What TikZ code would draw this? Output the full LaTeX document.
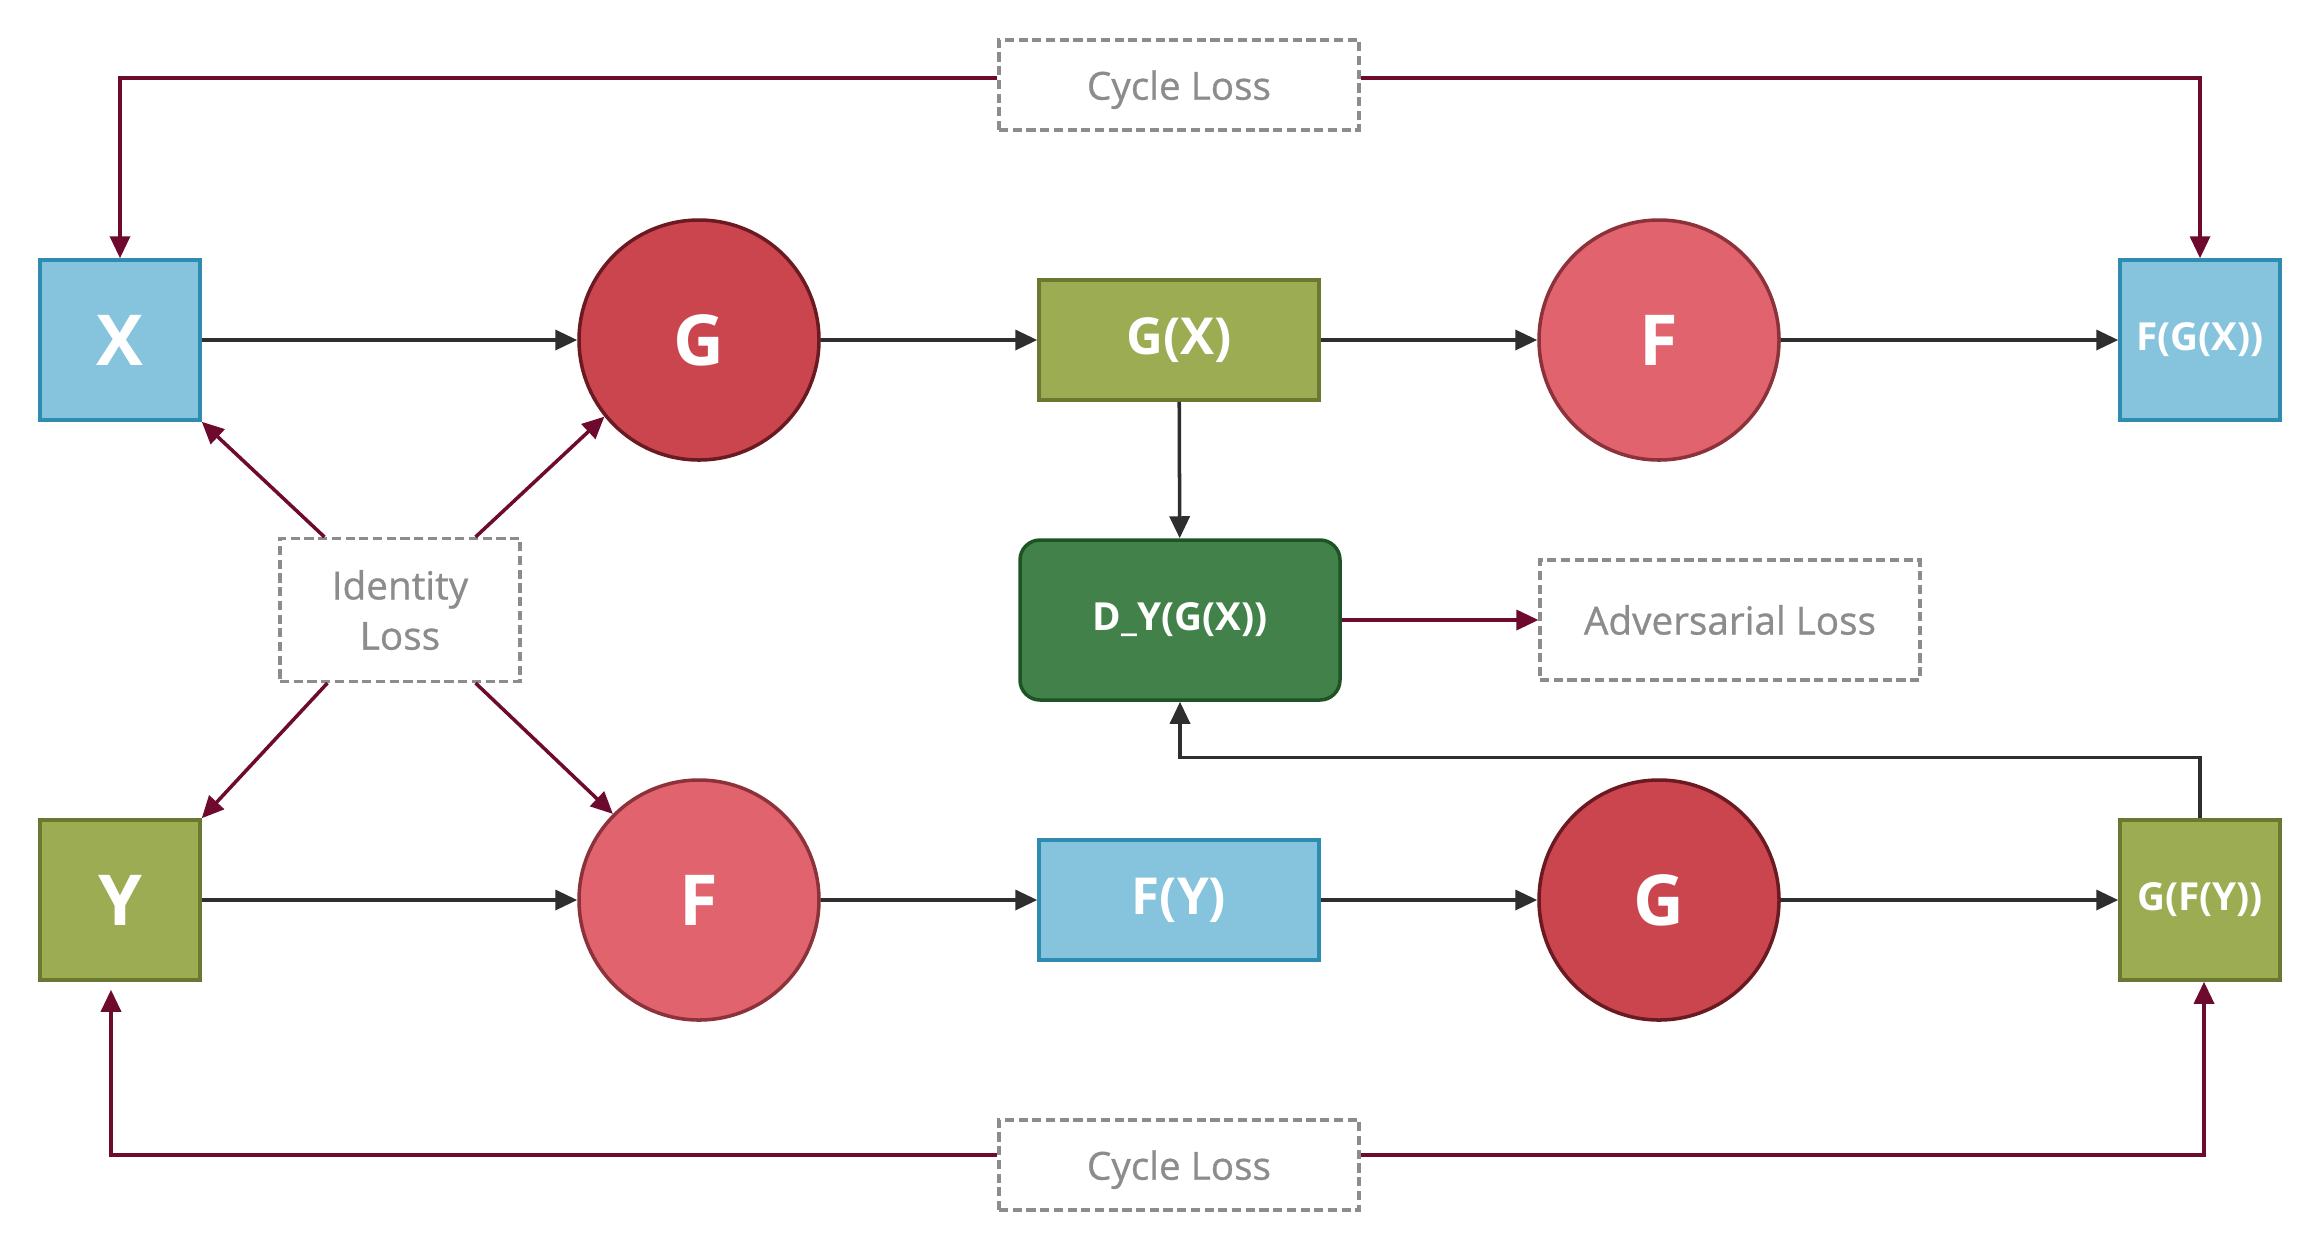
\documentclass[tikz,border=0pt]{standalone}
\usepackage{fontspec}
\setmainfont{Open Sans}
\newfontfamily\lossfont{Open Sans}[FakeBold=0.8]
\usetikzlibrary{arrows.meta}

\definecolor{imgblue}{HTML}{86C4DD}
\definecolor{imgblueline}{HTML}{2F8CB1}
\definecolor{imgolive}{HTML}{9BAC52}
\definecolor{imgoliveline}{HTML}{6A7831}
\definecolor{genred}{HTML}{CA454E}
\definecolor{genredline}{HTML}{6B1A22}
\definecolor{genpink}{HTML}{E0636D}
\definecolor{genpinkline}{HTML}{8D323A}
\definecolor{discgreen}{HTML}{42824A}
\definecolor{discgreenline}{HTML}{1E5425}
\definecolor{lossred}{HTML}{6E0A2E}
\definecolor{flowdark}{HTML}{2E2E2E}
\definecolor{lossgray}{HTML}{8C8C8C}

\tikzset{
  imgbox/.style={draw, line width=1pt, minimum width=1.6cm, minimum height=1.6cm,
    text=white, font=\fontsize{20}{24}\selectfont\bfseries},
  outbox/.style={imgbox, font=\fontsize{11}{13}\selectfont\bfseries},
  midbox/.style={draw, line width=1pt, minimum width=2.8cm, minimum height=1.2cm,
    text=white, font=\fontsize{14.5}{17}\selectfont\bfseries},
  gen/.style={circle, draw, line width=1pt, minimum size=2.4cm,
    text=white, font=\fontsize{20}{24}\selectfont\bfseries},
  disc/.style={draw=discgreenline, fill=discgreen, line width=1pt, rounded corners=0.2cm,
    minimum width=3.2cm, minimum height=1.6cm, text=white,
    font=\fontsize{11}{13}\selectfont\bfseries},
  lossbox/.style={draw=lossgray, line width=0.9pt, dash pattern=on 2.6pt off 1.3pt,
    text=lossgray, align=center, font=\fontsize{11}{14.3}\selectfont\lossfont},
  cyclebox/.style={lossbox, minimum width=3.6cm, minimum height=0.9cm, text depth=0pt},
  flow/.style={draw=flowdark, line width=1pt, -{Triangle[length=2.2mm,width=2mm]}},
  lossflow/.style={draw=lossred, line width=1pt, -{Triangle[length=2.2mm,width=2mm]}}
}

\begin{document}
\begin{tikzpicture}
  \useasboundingbox (0,0) rectangle (23.21,-12.52);
  % top row
  \node[imgbox, fill=imgblue, draw=imgblueline] (X) at (1.20,-3.40) {X};
  \node[gen, fill=genred, draw=genredline] (Gx) at (6.99,-3.40) {G};
  \node[midbox, fill=imgolive, draw=imgoliveline] (GX) at (11.79,-3.40) {G(X)};
  \node[gen, fill=genpink, draw=genpinkline] (Fx) at (16.59,-3.40) {F};
  \node[outbox, fill=imgblue, draw=imgblueline] (FGX) at (22.00,-3.40) {F(G(X))};
  % bottom row
  \node[imgbox, fill=imgolive, draw=imgoliveline] (Y) at (1.20,-9.00) {Y};
  \node[gen, fill=genpink, draw=genpinkline] (Fy) at (6.99,-9.00) {F};
  \node[midbox, fill=imgblue, draw=imgblueline] (FY) at (11.79,-9.00) {F(Y)};
  \node[gen, fill=genred, draw=genredline] (Gy) at (16.59,-9.00) {G};
  \node[outbox, fill=imgolive, draw=imgoliveline] (GFY) at (22.00,-9.00) {G(F(Y))};
  % discriminator and losses
  \node[disc] (DY) at (11.80,-6.20) {D\_Y(G(X))};
  \node[cyclebox] (cyctop) at (11.79,-0.85) {Cycle Loss};
  \node[cyclebox] (cycbot) at (11.79,-11.65) {Cycle Loss};
  \node[lossbox, minimum width=3.8cm, minimum height=1.2cm] (adv) at (17.30,-6.20) {Adversarial Loss};
  \node[lossbox, minimum width=2.4cm, minimum height=1.43cm] (ident) at (4.00,-6.10) {Identity\\Loss};

  \begin{scope}[flow]
    \draw (X) to (Gx);
    \draw (Gx) to (GX);
    \draw (GX) to (Fx);
    \draw (Fx) to (FGX);
    \draw (Y) to (Fy);
    \draw (Fy) to (FY);
    \draw (FY) to (Gy);
    \draw (Gy) to (GFY);
    \draw (GX) to (DY);
    \draw (GFY.north) -- ++(0,0.61) -| (DY.south);
  \end{scope}
  \begin{scope}[lossflow]
    \draw ([yshift=0.7mm]cyctop.west) -| (X.north);
    \draw ([yshift=0.7mm]cyctop.east) -| (FGX.north);
    \draw[shorten >=0.8mm] ([yshift=1mm]cycbot.west) -| ([xshift=-0.9mm]Y.south);
    \draw ([yshift=1mm]cycbot.east) -| ([xshift=0.4mm]GFY.south);
    \draw (DY) to (adv);
    \draw ([xshift=4.6mm]ident.north west) to (X.south east);
    \draw ([xshift=-4.6mm]ident.north east) to (Gx.219);
    \draw ([xshift=4.9mm]ident.south west) to (Y.north east);
    \draw ([xshift=-4.6mm]ident.south east) to (Fy.135);
  \end{scope}
\end{tikzpicture}
\end{document}
